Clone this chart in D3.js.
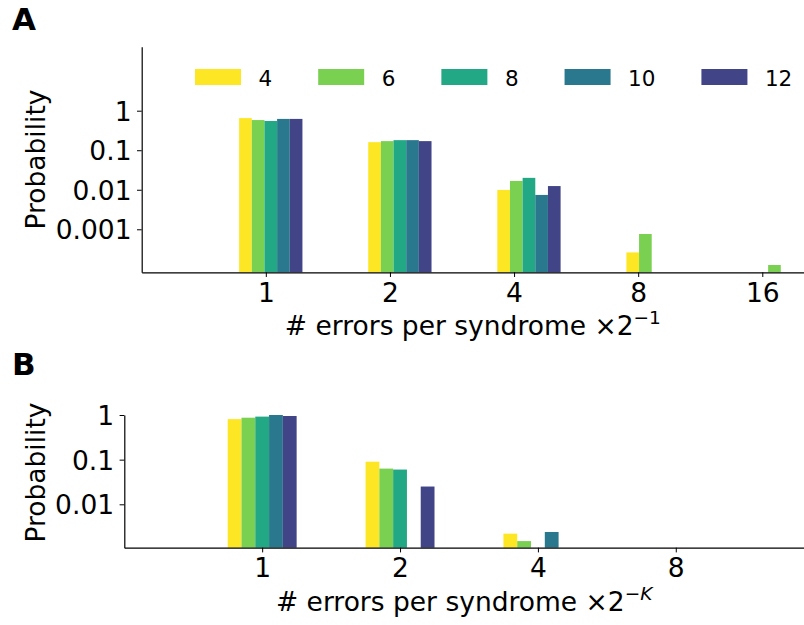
<!DOCTYPE html>
<html>
<head>
<meta charset="utf-8">
<script src="https://cdn.jsdelivr.net/npm/d3@7"></script>
<style>
  html, body { margin: 0; padding: 0; background: #fff; }
  svg { display: block; }
  text { font-family: "DejaVu Sans", sans-serif; fill: #000; }
</style>
</head>
<body>
<svg id="chart" width="804" height="625"></svg>
<script>
// ---------------- data ----------------
const seriesNames = ["4", "6", "8", "10", "12"];
const seriesColorT = [1.0, 0.8, 0.6, 0.4, 0.2]; // viridis positions

// Panel A
const catsA = ["1", "2", "4", "8", "16"];
const tickPosA = [0, 1, 2, 3, 4];
const groupPosA = [0.04, 1.08, 2.12, 3.16, 4.20];
const valsA4  = [0.65, 0.16, 0.0099, 0.00026, null];
const valsA6  = [0.58, 0.17, 0.0167, 0.00076, 0.000125];
const valsA8  = [0.55, 0.18, 0.020, null, null];
const valsA10 = [0.62, 0.18, 0.0074, null, null];
const valsA12 = [0.62, 0.17, 0.0124, null, null];
const yTicksA = [1, 0.1, 0.01, 0.001];
const yTickLabelsA = ["1", "0.1", "0.01", "0.001"];

// Panel B
const catsB = ["1", "2", "4", "8"];
const tickPosB = [0, 1, 2, 3];
const groupPosB = [0, 1, 2, 3];
const valsB4  = [0.81, 0.09, 0.0022, null];
const valsB6  = [0.87, 0.063, 0.0015, null];
const valsB8  = [0.92, 0.06, null, null];
const valsB10 = [1.0, null, 0.0024, null];
const valsB12 = [0.95, 0.025, null, null];
const yTicksB = [1, 0.1, 0.01];
const yTickLabelsB = ["1", "0.1", "0.01"];

const seriesA = [valsA4, valsA6, valsA8, valsA10, valsA12];
const seriesB = [valsB4, valsB6, valsB8, valsB10, valsB12];

// ---------------- drawing ----------------
const svg = d3.select("#chart");
const color = d3.scaleOrdinal().domain(seriesNames)
  .range(seriesColorT.map(t => d3.interpolateViridis(t)));

const FS = 26.5;

function panel(cfg) {
  const g = svg.append("g");
  const x = d3.scaleLinear().domain(cfg.xDomain).range([cfg.left, 804]);
  const y = d3.scaleLog().domain(cfg.yDomain).range([cfg.bottom, cfg.top]);
  const bw = cfg.barW;

  cfg.series.forEach((vals, si) => {
    const data = vals.map((v, ci) => ({v, ci})).filter(d => d.v != null);
    g.append("g").selectAll("rect").data(data).join("rect")
      .attr("x", d => x(cfg.groupPos[d.ci] + (si - 2) * bw - bw / 2))
      .attr("width", d => x(cfg.groupPos[d.ci] + (si - 2) * bw + bw / 2) - x(cfg.groupPos[d.ci] + (si - 2) * bw - bw / 2))
      .attr("y", d => y(d.v))
      .attr("height", d => cfg.bottom - y(d.v))
      .attr("fill", color(seriesNames[si]));
  });

  const xAxis = d3.axisBottom(x).tickValues(cfg.tickPos)
    .tickFormat((d, i) => cfg.cats[i]).tickSizeOuter(0).tickSizeInner(4.7).tickPadding(5);
  const gx = g.append("g").attr("transform", `translate(0,${cfg.bottom})`).call(xAxis);
  gx.select(".domain").attr("stroke", "#000").attr("stroke-width", 1.2);
  gx.selectAll(".tick line").attr("stroke", "#000").attr("stroke-width", 1);
  gx.selectAll(".tick text").attr("font-size", FS).attr("font-family", "DejaVu Sans").attr("dy", "0.75em");

  const yAxis = d3.axisLeft(y).tickValues(cfg.yTicks)
    .tickFormat((d, i) => cfg.yLabels[i]).tickSizeOuter(0).tickSizeInner(4.7).tickPadding(5.5);
  const gy = g.append("g").attr("transform", `translate(${cfg.left},0)`).call(yAxis);
  gy.select(".domain").attr("stroke", "#000").attr("stroke-width", 1.2);
  gy.selectAll(".tick line").attr("stroke", "#000").attr("stroke-width", 1);
  gy.selectAll(".tick text").attr("font-size", FS).attr("font-family", "DejaVu Sans").attr("dy", "0.36em");

  // y label
  g.append("text")
    .attr("transform", `translate(45,${cfg.yLabelY}) rotate(-90)`)
    .attr("text-anchor", "middle")
    .attr("font-size", FS)
    .text("Probability");

  // x label
  const xl = g.append("text")
    .attr("x", (cfg.left + 804) / 2)
    .attr("y", cfg.xLabelY)
    .attr("text-anchor", "middle")
    .attr("font-size", FS);
  xl.append("tspan").text("# errors per syndrome \u00d72");
  const sup = xl.append("tspan").attr("font-size", 18.5).attr("dy", -11);
  sup.append("tspan").text("\u2212");
  sup.append("tspan").attr("font-style", cfg.supItalic ? "italic" : "normal").text(cfg.sup);

  // panel letter
  svg.append("text").attr("x", 12).attr("y", cfg.letterY)
    .attr("font-size", 31).attr("font-weight", "bold").text(cfg.letter);
  return {x, y, g};
}

panel({
  left: 141.7, top: 46.7, bottom: 272.3,
  xDomain: [-1, 4.336], yDomain: [Math.pow(10, -4.088), Math.pow(10, 1.619)],
  barW: 0.102, groupPos: groupPosA, tickPos: tickPosA, cats: catsA,
  series: seriesA, yTicks: yTicksA, yLabels: yTickLabelsA,
  yLabelY: 159.5, xLabelY: 335, sup: "1", supItalic: false,
  letter: "A", letterY: 29.5
});

panel({
  left: 124.3, top: 415, bottom: 547.7,
  xDomain: [-1, 3.93], yDomain: [Math.pow(10, -2.972), 1],
  barW: 0.1, groupPos: groupPosB, tickPos: tickPosB, cats: catsB,
  series: seriesB, yTicks: yTicksB, yLabels: yTickLabelsB,
  yLabelY: 472.5, xLabelY: 611, sup: "K", supItalic: true,
  letter: "B", letterY: 375
});

// legend (panel A)
const legend = svg.append("g");
let lx = 195;
seriesNames.forEach((name, i) => {
  legend.append("rect").attr("x", lx).attr("y", 69).attr("width", 46).attr("height", 16)
    .attr("fill", color(name));
  const t = legend.append("text").attr("x", lx + 46 + 17.5).attr("y", 85.5)
    .attr("font-size", 21.5).text(name);
  const w = t.node().getComputedTextLength();
  lx += 46 + 17.5 + w + 46;
});
</script>
</body>
</html>
